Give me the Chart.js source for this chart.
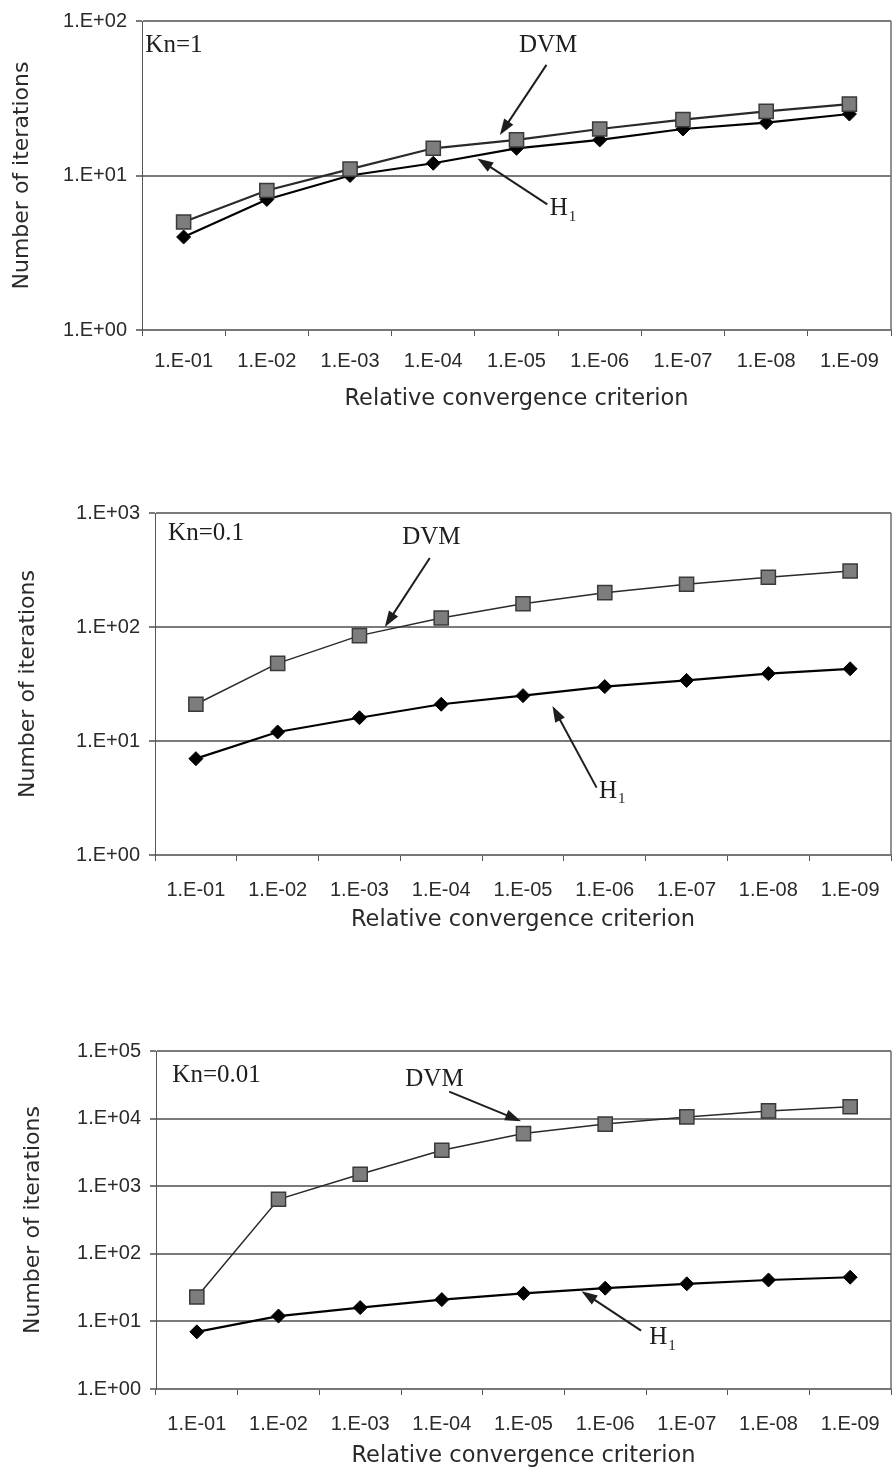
<!DOCTYPE html>
<html>
<head>
<meta charset="utf-8">
<script src="https://cdn.jsdelivr.net/npm/chart.js@4.4.1/dist/chart.umd.min.js"></script>
<style>
    html, body { margin: 0; padding: 0; background: #ffffff; }
    body { width: 892px; height: 1477px; position: relative; overflow: hidden; }
    canvas { position: absolute; left: 0; }
</style>
</head>
<body>
<canvas id="chartKn1" style="top:0px"></canvas>
<canvas id="chartKn01" style="top:490px"></canvas>
<canvas id="chartKn001" style="top:1030px"></canvas>
<script>
// Data
const xLabels = ['1.E-01', '1.E-02', '1.E-03', '1.E-04', '1.E-05', '1.E-06', '1.E-07', '1.E-08', '1.E-09'];

const dvmKn1 = [5, 8, 11, 15, 17, 20, 23, 26, 29];
const h1Kn1 = [4, 7, 10, 12, 15, 17, 20, 22, 25];

const dvmKn01 = [21, 48, 84, 120, 160, 200, 237, 273, 310];
const h1Kn01 = [7, 12, 16, 21, 25, 30, 34, 39, 43];

const dvmKn001 = [23, 640, 1500, 3400, 6000, 8300, 10600, 13000, 15000];
const h1Kn001 = [7, 12, 16, 21, 26, 31, 36, 41, 45];

const yTicksKn1 = [1, 10, 100];
const yLabelsKn1 = ['1.E+00', '1.E+01', '1.E+02'];
const yTicksKn01 = [1, 10, 100, 1000];
const yLabelsKn01 = ['1.E+00', '1.E+01', '1.E+02', '1.E+03'];
const yTicksKn001 = [1, 10, 100, 1000, 10000, 100000];
const yLabelsKn001 = ['1.E+00', '1.E+01', '1.E+02', '1.E+03', '1.E+04', '1.E+05'];

const xTitle = 'Relative convergence criterion';
const yTitle = 'Number of iterations';

// Callouts, placed in data coordinates [category index, value]
const notesKn1 = {
    kn: { text: 'Kn=1', at: [-0.46, 69] },
    dvm: { at: [4.38, 69], from: [4.36, 52], to: [3.8, 18.3] },
    h1: { at: [4.4, 6.1], from: [4.37, 6.5], to: [3.53, 12.9] }
};
const notesKn01 = {
    kn: { text: 'Kn=0.1', at: [-0.34, 668] },
    dvm: { at: [2.88, 615], from: [2.86, 403], to: [2.31, 100] },
    h1: { at: [4.93, 3.64], from: [4.9, 3.9], to: [4.36, 20.3] }
};
const notesKn001 = {
    kn: { text: 'Kn=0.01', at: [-0.3, 43100] },
    dvm: { at: [2.91, 37700], from: [3.09, 25100], to: [3.97, 9160] },
    h1: { at: [5.54, 5.75], from: [5.44, 7.3], to: [4.71, 28] }
};

const serifFont = '25px "Liberation Serif", "Times New Roman", serif';
const inkColor = '#1e1e1e';

function drawArrow(ctx, from, to) {
    const ang = Math.atan2(to[1] - from[1], to[0] - from[0]);
    const head = 16, half = 5.5;
    const cos = Math.cos(ang), sin = Math.sin(ang);
    ctx.beginPath();
    ctx.moveTo(from[0], from[1]);
    ctx.lineTo(to[0] - cos * head * 0.7, to[1] - sin * head * 0.7);
    ctx.stroke();
    ctx.beginPath();
    ctx.moveTo(to[0], to[1]);
    ctx.lineTo(to[0] - cos * head + sin * half, to[1] - sin * head - cos * half);
    ctx.lineTo(to[0] - cos * head - sin * half, to[1] - sin * head + cos * half);
    ctx.closePath();
    ctx.fill();
}

// Plugin: frame on the right, Kn label, DVM / H1 callouts
function makeCallouts(notes) {
    return {
        id: 'callouts',
        afterDatasetsDraw: (chart) => {
            const ctx = chart.ctx;
            const xs = chart.scales.x, ys = chart.scales.y;
            const px = (p) => [xs.getPixelForValue(p[0]), ys.getPixelForValue(p[1])];
            const area = chart.chartArea;
            ctx.save();

            ctx.strokeStyle = '#6e6e6e';
            ctx.lineWidth = 1.5;
            ctx.beginPath();
            ctx.moveTo(area.right, area.top);
            ctx.lineTo(area.right, area.bottom);
            ctx.stroke();

            ctx.fillStyle = inkColor;
            ctx.strokeStyle = inkColor;
            ctx.lineWidth = 2;
            ctx.font = serifFont;
            ctx.textBaseline = 'middle';

            let p = px(notes.kn.at);
            ctx.textAlign = 'left';
            ctx.fillText(notes.kn.text, p[0], p[1]);

            p = px(notes.dvm.at);
            ctx.textAlign = 'center';
            ctx.fillText('DVM', p[0], p[1]);
            drawArrow(ctx, px(notes.dvm.from), px(notes.dvm.to));

            p = px(notes.h1.at);
            ctx.textAlign = 'left';
            ctx.fillText('H', p[0], p[1]);
            const w = ctx.measureText('H').width;
            ctx.font = '15px "Liberation Serif", "Times New Roman", serif';
            ctx.fillText('1', p[0] + w + 1, p[1] + 8);
            drawArrow(ctx, px(notes.h1.from), px(notes.h1.to));

            ctx.restore();
        }
    };
}

function buildChart(canvasId, frame, dvm, h1, yTicks, yLabels, yMax, notes) {
    const canvas = document.getElementById(canvasId);
    canvas.width = 892;
    canvas.height = frame.height;
    const ctx = canvas.getContext('2d');

    return new Chart(ctx, {
        type: 'line',
        data: {
            labels: xLabels,
            datasets: [{
                label: 'DVM',
                data: dvm,
                borderColor: '#2a2a2a',
                borderWidth: frame.dvmLine,
                tension: 0,
                pointStyle: 'rect',
                pointRadius: 10,
                pointBackgroundColor: '#7d7d7d',
                pointBorderColor: '#3a3a3a',
                pointBorderWidth: 1.5
            }, {
                label: 'H1',
                data: h1,
                borderColor: '#000000',
                borderWidth: 2.2,
                tension: 0,
                pointStyle: 'rectRot',
                pointRadius: 7,
                pointBackgroundColor: '#000000',
                pointBorderColor: '#000000',
                pointBorderWidth: 1
            }]
        },
        options: {
            responsive: false,
            maintainAspectRatio: false,
            animation: false,
            events: [],
            layout: {
                autoPadding: false,
                padding: { top: frame.top, left: 0, right: 1, bottom: 0 }
            },
            plugins: {
                legend: { display: false },
                tooltip: { enabled: false }
            },
            scales: {
                x: {
                    type: 'category',
                    offset: true,
                    afterFit: (scale) => {
                        scale.height = frame.xHeight;
                        scale.paddingLeft = 0;
                        scale.paddingRight = 0;
                    },
                    grid: {
                        offset: true,
                        drawOnChartArea: false,
                        drawTicks: true,
                        tickLength: 6,
                        color: '#555555'
                    },
                    border: { display: true, color: '#777777', width: 2 },
                    ticks: {
                        color: '#2a2a2a',
                        padding: frame.tickPad,
                        maxRotation: 0,
                        autoSkip: false,
                        font: { family: '"Liberation Sans", Arial, sans-serif', size: 20 }
                    },
                    title: {
                        display: true,
                        text: xTitle,
                        color: '#2a2a2a',
                        padding: { top: 0, bottom: frame.xTitlePad },
                        font: { family: '"DejaVu Sans", sans-serif', size: 22.5 }
                    }
                },
                y: {
                    type: 'logarithmic',
                    min: 1,
                    max: yMax,
                    afterFit: (scale) => { scale.width = frame.yWidth; },
                    afterBuildTicks: (scale) => {
                        scale.ticks = yTicks.map((v) => ({ value: v }));
                    },
                    grid: {
                        color: '#7a7a7a',
                        lineWidth: 2,
                        drawTicks: true,
                        tickLength: 6
                    },
                    border: { display: true, color: '#555555', width: 1 },
                    ticks: {
                        color: '#2a2a2a',
                        padding: 9,
                        autoSkip: false,
                        font: { family: '"Liberation Sans", Arial, sans-serif', size: 20 },
                        callback: (value, index) => yLabels[index]
                    },
                    title: {
                        display: true,
                        text: yTitle,
                        color: '#2a2a2a',
                        padding: { top: frame.yTitlePad, bottom: 0 },
                        font: { family: '"DejaVu Sans", sans-serif', size: 22 }
                    }
                }
            }
        },
        plugins: [makeCallouts(notes)]
    });
}

// Chart 1: Kn=1
buildChart('chartKn1',
    { height: 430, top: 18, yWidth: 142, xHeight: 100, tickPad: 13, xTitlePad: 17, yTitlePad: 9, dvmLine: 2.2 },
    dvmKn1, h1Kn1, yTicksKn1, yLabelsKn1, 100, notesKn1);

// Chart 2: Kn=0.1
buildChart('chartKn01',
    { height: 465, top: 23, yWidth: 155, xHeight: 100, tickPad: 17, xTitlePad: 21, yTitlePad: 15, dvmLine: 1.5 },
    dvmKn01, h1Kn01, yTicksKn01, yLabelsKn01, 1000, notesKn01);

// Chart 3: Kn=0.01
buildChart('chartKn001',
    { height: 447, top: 17, yWidth: 156, xHeight: 88, tickPad: 17, xTitlePad: 7, yTitlePad: 20, dvmLine: 1.5 },
    dvmKn001, h1Kn001, yTicksKn001, yLabelsKn001, 100000, notesKn001);
</script>
</body>
</html>
